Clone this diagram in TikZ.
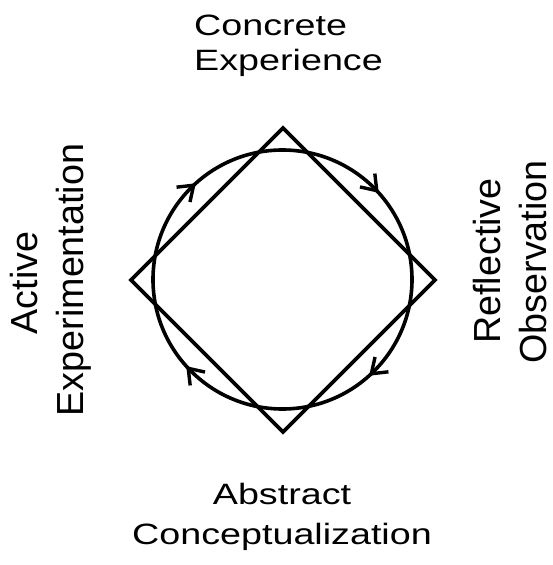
\documentclass[tikz,border=0pt]{standalone}
\usepackage{graphicx}
\usepackage{fontspec}
\setmainfont{Liberation Sans}
\usetikzlibrary{decorations.markings,arrows.meta}
\newcommand{\squash}[1]{\scalebox{1}[0.78]{#1}}
\begin{document}
\begin{tikzpicture}[x=1pt,y=1pt,
  lbl/.style={inner sep=0pt, font=\fontsize{37.7}{45}\selectfont},
  vlbl/.style={lbl, rotate=90, anchor=base},
  shapeline/.style={line width=3.6pt, line join=miter},
  cw/.style={postaction={decorate},decoration={markings,
     mark=at position 0.1333 with {\arrow{Straight Barb[length=14pt,width=20pt,line width=3.4pt]}},
     mark=at position 0.3833 with {\arrow{Straight Barb[length=14pt,width=20pt,line width=3.4pt]}},
     mark=at position 0.6333 with {\arrow{Straight Barb[length=14pt,width=20pt,line width=3.4pt]}},
     mark=at position 0.8833 with {\arrow{Straight Barb[length=14pt,width=20pt,line width=3.4pt]}}}}]
\useasboundingbox (0,0) rectangle (553,565);
\fill[white] (0,0) rectangle (553,565);
% diamond
\coordinate (dl) at (131,285);
\coordinate (dt) at (283,437);
\coordinate (dr) at (435,285);
\coordinate (db) at (283,133);
\draw[shapeline] (dl) -- (dt) -- (dr) -- (db) -- cycle;
% circle with clockwise arrows
\coordinate (c) at (282.5,285.5);
\draw[shapeline, cw] (c) ++(0:129.5) arc[start angle=360,end angle=0,radius=129.5];
% labels
\node[lbl, anchor=base west] (ce1) at (194,529) {\squash{Concrete}};
\node[lbl, anchor=base west] (ce2) at (194,494.3) {\squash{Experience}};
\node[lbl, anchor=base] (ac1) at (282,60) {\squash{Abstract}};
\node[lbl, anchor=base] (ac2) at (282,20) {\squash{Conceptualization}};
\node[vlbl] (ae1) at (37,282) {Active};
\node[vlbl] (ae2) at (83,285) {Experimentation};
\node[vlbl] (ro1) at (500,304) {Reflective};
\node[vlbl] (ro2) at (546,303) {Observation};
\end{tikzpicture}
\end{document}
